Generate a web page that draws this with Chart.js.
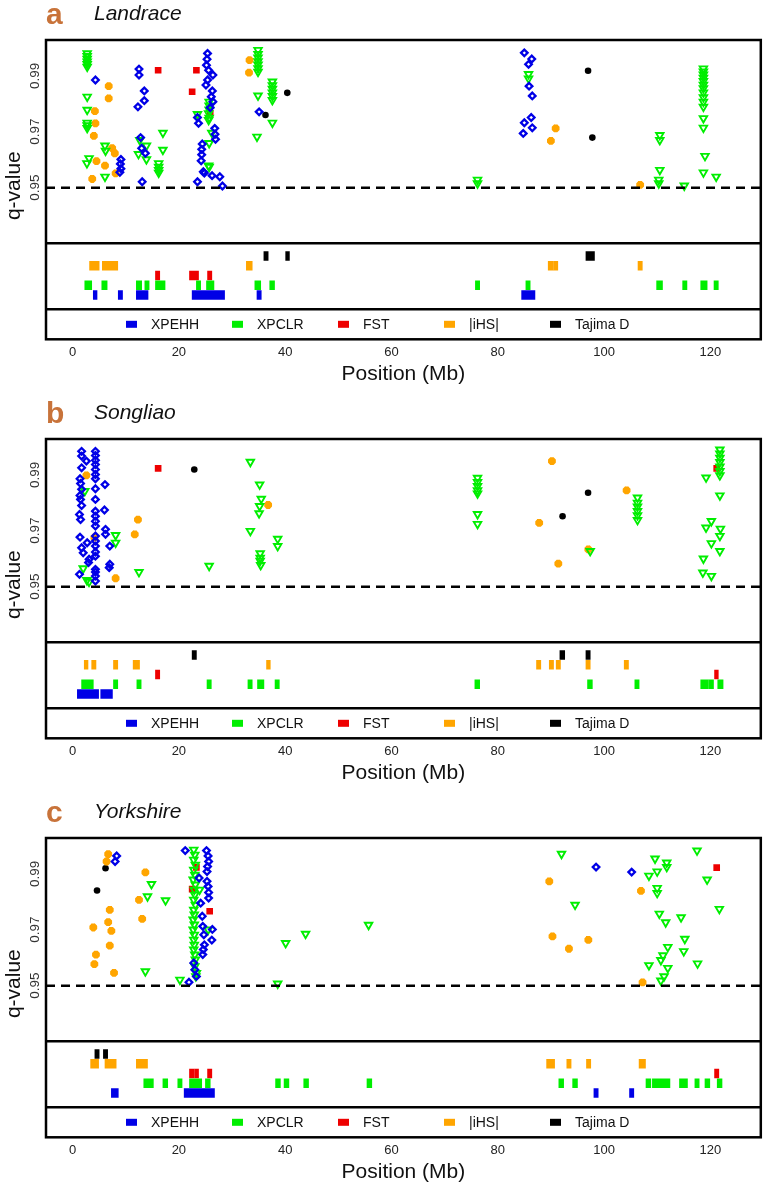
<!DOCTYPE html>
<html><head><meta charset="utf-8">
<script src="https://cdn.jsdelivr.net/npm/chart.js@4.4.1/dist/chart.umd.min.js"></script>
<style>
html,body{margin:0;padding:0;background:#fff;width:768px;height:1189px;overflow:hidden;}
canvas{position:absolute;left:0;}
</style></head><body>
<canvas id="ca" width="768" height="391" style="top:0px"></canvas>
<canvas id="cb" width="768" height="391" style="top:399px"></canvas>
<canvas id="cc" width="768" height="391" style="top:798px"></canvas>
<script>
// ---------- shared labels / ticks ----------
const seriesNames = ['XPEHH', 'XPCLR', 'FST', '|iHS|', 'Tajima D'];
const seriesColors = ['#0000E6', '#00EE00', '#EE0000', '#FFA500', '#000000'];
const trackRows = [1, 2, 3, 4, 5];
const xTicks = [0, 20, 40, 60, 80, 100, 120];
const yTicks = [0.95, 0.97, 0.99];
const threshold = 0.95;
const panelLetters = ['a', 'b', 'c'];
const breedNames = ['Landrace', 'Songliao', 'Yorkshire'];
const xLabel = 'Position (Mb)';
const yLabel = 'q-value';

// ---------- a: Landrace ----------
const aXPEHH = [[4.3,0.9885],[9.1,0.9601],[9.0,0.9585],[9.1,0.9568],[8.9,0.9555],
 [12.5,0.9924],[12.5,0.9903],[13.5,0.9846],[13.5,0.9811],[12.3,0.9789],[12.8,0.9679],[13.0,0.9641],[13.7,0.9623],[13.1,0.9521],
 [25.4,0.9980],[25.3,0.9959],[25.2,0.9938],[25.6,0.9920],[26.4,0.9903],[25.4,0.9885],[25.1,0.9867],[26.3,0.9846],[26.1,0.9825],[26.4,0.9807],[25.9,0.9786],
 [23.5,0.9751],[23.7,0.9730],[26.75,0.9712],[26.8,0.9691],[26.9,0.9673],[24.4,0.9656],[24.3,0.9637],[24.3,0.9618],[24.2,0.9596],[24.6,0.9557],[24.8,0.9552],
 [26.25,0.9543],[27.7,0.9539],[23.5,0.9521],[28.2,0.9506],[35.1,0.9771],
 [85.0,0.9982],[86.4,0.9960],[85.8,0.9941],[85.9,0.9863],[86.5,0.9828],[86.3,0.9751],[85.0,0.9732],[86.5,0.9714],[84.8,0.9694]];
const aXPCLR = [[2.75,0.9980],[2.75,0.9970],[2.75,0.9961],[2.75,0.9951],[2.75,0.9942],[2.75,0.9932],[2.75,0.9825],[2.75,0.9778],[2.75,0.9732],[2.75,0.9723],[2.75,0.9713],[3.1,0.9605],[2.7,0.9587],
 [6.1,0.9650],[6.2,0.9632],[6.1,0.9539],[12.65,0.9670],[13.9,0.9650],[12.4,0.9620],[13.9,0.9601],
 [17.0,0.9696],[17.0,0.9635],[16.2,0.9587],[16.2,0.9574],[16.2,0.9563],[16.2,0.9553],
 [23.5,0.9763],[25.7,0.9807],[25.7,0.9793],[25.7,0.9779],[25.6,0.9766],[25.7,0.9750],[25.6,0.9742],[26.2,0.9696],[25.7,0.9659],[25.6,0.9579],[25.7,0.9574],
 [34.9,0.9992],[34.9,0.9978],[34.9,0.9965],[34.9,0.9952],[34.9,0.9940],[34.9,0.9927],[34.9,0.9914],[34.9,0.9829],[34.7,0.9682],
 [37.6,0.9879],[37.6,0.9866],[37.6,0.9853],[37.6,0.9840],[37.6,0.9827],[37.6,0.9813],[37.6,0.9732],
 [76.2,0.9528],[76.2,0.9515],[85.8,0.9906],[85.8,0.9890],
 [110.5,0.9688],[110.5,0.9670],[110.5,0.9563],[110.3,0.9528],[110.3,0.9515],[115.1,0.9507],
 [118.7,0.9926],[118.7,0.9915],[118.7,0.9904],[118.7,0.9893],[118.7,0.9881],[118.7,0.9868],[118.7,0.9855],[118.7,0.9840],[118.7,0.9823],[118.7,0.9807],[118.7,0.9789],
 [118.7,0.9748],[118.7,0.9714],[119.0,0.9613],[118.7,0.9554],[121.1,0.9539]];
const aFST = [[16.1,0.9920],[23.3,0.9920],[22.5,0.9843],[25.9,0.9766]];
const aIHS = [[6.8,0.9863],[6.8,0.9819],[4.2,0.9774],[4.3,0.9730],[4.0,0.9685],[4.5,0.9595],[6.1,0.9579],[3.7,0.9531],[7.45,0.9641],[7.95,0.9623],[8.1,0.9551],
 [33.3,0.9956],[33.2,0.9911],[90.9,0.9712],[90.0,0.9667],[106.8,0.9510]];
const aTAJ = [[36.3,0.9760],[40.4,0.9839],[97.0,0.9918],[97.8,0.9679]];
const aXPEHHreg = [[3.9,4.6],[8.6,9.4],[12.0,14.2],[22.5,28.6],[34.7,35.5],[84.5,87.0]];
const aXPCLRreg = [[2.3,3.6],[5.5,6.5],[12.0,13.0],[13.6,14.4],[15.6,17.4],[23.3,24.1],[25.2,26.6],[34.3,35.4],[37.1,38.0],[75.8,76.6],[85.3,86.1],[109.9,111.0],[114.8,115.6],[118.2,119.4],[120.7,121.5]];
const aFSTreg = [[15.6,16.4],[22.0,22.8],[22.9,23.7],[25.4,26.2]];
const aIHSreg = [[3.2,5.0],[5.6,8.5],[32.7,33.8],[89.5,90.4],[90.5,91.3],[106.4,107.2]];
const aTAJreg = [[36.0,36.8],[40.1,40.8],[96.6,98.2]];

// ---------- b: Songliao ----------
const bXPEHH = [[1.7,0.9984],[1.7,0.9967],[2.6,0.9949],[1.7,0.9925],[1.4,0.9886],[1.5,0.9869],[1.7,0.9848],[1.4,0.9826],[1.5,0.9812],[1.7,0.9790],[1.3,0.9758],[1.5,0.9740],
 [1.4,0.9677],[2.75,0.9657],[1.7,0.9639],[2.0,0.9621],[3.1,0.9598],[3.0,0.9586],[1.3,0.9544],
 [4.3,0.9984],[4.3,0.9969],[4.3,0.9952],[4.3,0.9937],[4.3,0.9919],[4.3,0.9901],[4.3,0.9886],[4.3,0.9850],[4.3,0.9812],[4.3,0.9770],[4.3,0.9752],[4.3,0.9734],
 [4.3,0.9717],[4.3,0.9681],[4.3,0.9663],[4.3,0.9645],[4.3,0.9624],[4.3,0.9609],[4.3,0.9562],[4.3,0.9552],[4.3,0.9538],[4.3,0.9520],
 [6.1,0.9865],[6.0,0.9774],[6.2,0.9705],[6.2,0.9687],[7.0,0.9645],[7.0,0.9580],[6.9,0.9568]];
const bXPCLR = [[2.3,0.9842],[2.0,0.9565],[2.7,0.9523],[3.1,0.9517],[8.1,0.9684],[8.1,0.9657],[12.5,0.9552],[25.7,0.9574],
 [33.45,0.9946],[35.2,0.9865],[35.5,0.9814],[35.2,0.9788],[35.1,0.9762],[33.45,0.9699],[38.6,0.9671],[38.6,0.9645],[35.3,0.9619],[35.3,0.9603],[35.3,0.9592],[35.4,0.9577],
 [76.2,0.9889],[76.2,0.9874],[76.2,0.9860],[76.2,0.9844],[76.2,0.9833],[76.2,0.9759],[76.2,0.9724],[97.4,0.9627],
 [106.3,0.9818],[106.3,0.9800],[106.3,0.9786],[106.3,0.9770],[106.3,0.9755],[106.3,0.9738],
 [121.8,0.9990],[121.8,0.9976],[121.8,0.9961],[121.8,0.9945],[121.8,0.9929],[121.8,0.9913],[121.8,0.9898],[121.8,0.9826],[119.2,0.9890],[120.2,0.9734],[119.2,0.9711],
 [121.9,0.9707],[121.8,0.9681],[120.2,0.9655],[121.8,0.9627],[118.7,0.9600],[118.6,0.9550],[120.2,0.9538]];
const bFST = [[16.1,0.9923],[121.2,0.9923]];
const bIHS = [[2.6,0.9898],[4.1,0.9675],[8.1,0.9530],[12.3,0.9740],[11.7,0.9687],[36.8,0.9792],[90.2,0.9949],[87.8,0.9728],[91.4,0.9582],[97.05,0.9633],[104.25,0.9844]];
const bTAJ = [[22.9,0.9919],[92.2,0.9752],[97.0,0.9836]];
const bXPEHHreg = [[0.9,4.9],[5.3,7.5]];
const bXPCLRreg = [[1.7,3.9],[7.7,8.5],[12.1,12.9],[25.3,26.1],[33.0,33.8],[34.8,36.0],[38.1,38.9],[75.7,76.6],[96.9,97.8],[105.8,106.6],[118.2,119.6],[119.7,120.6],[121.4,122.4]];
const bFSTreg = [[15.6,16.4],[120.8,121.5]];
const bIHSreg = [[2.2,2.9],[3.6,4.4],[7.7,8.5],[11.4,12.6],[36.5,37.2],[87.3,88.1],[89.7,90.5],[91.0,91.8],[96.6,97.4],[103.8,104.6]];
const bTAJreg = [[22.5,23.3],[91.7,92.6],[96.6,97.4]];

// ---------- c: Yorkshire ----------
const cXPEHH = [[8.3,0.9964],[8.0,0.9944],[21.2,0.9983],[25.2,0.9983],[25.5,0.9964],[25.6,0.9944],[25.4,0.9926],[25.3,0.9908],[23.8,0.9885],[25.3,0.9873],[25.5,0.9855],
 [25.6,0.9833],[25.6,0.9813],[24.1,0.9795],[24.4,0.9748],[24.5,0.9712],[26.3,0.9701],[24.7,0.9682],[26.2,0.9663],[24.8,0.9646],[24.6,0.9629],[24.5,0.9611],
 [22.8,0.9581],[23.0,0.9557],[23.3,0.9533],[21.9,0.9512],[98.5,0.9924],[105.2,0.9906]];
const cXPCLR = [[14.85,0.9863],[14.1,0.9819],[17.5,0.9805],[13.7,0.9551],[20.2,0.9521],
 [22.8,0.9986],[23.0,0.9968],[22.8,0.9950],[23.1,0.9932],[22.8,0.9914],[23.0,0.9896],[22.7,0.9879],[23.1,0.9861],[22.9,0.9843],[23.0,0.9825],[22.8,0.9807],[23.1,0.9789],
 [22.8,0.9771],[22.9,0.9754],[22.7,0.9736],[22.9,0.9718],[22.7,0.9700],[22.9,0.9682],[22.8,0.9664],[22.9,0.9646],[22.8,0.9629],[23.0,0.9611],[23.1,0.9593],[23.0,0.9569],[23.3,0.9545],[23.2,0.9533],
 [23.9,0.9843],[25.5,0.9700],[40.1,0.9652],[43.85,0.9685],[55.7,0.9717],[38.6,0.9507],[92.0,0.9971],[94.55,0.9789],
 [109.6,0.9954],[111.8,0.9940],[111.8,0.9924],[110.0,0.9908],[108.45,0.9893],[110.0,0.9849],[110.0,0.9831],[117.5,0.9983],[119.4,0.9879],[121.7,0.9774],
 [110.4,0.9757],[111.6,0.9726],[114.5,0.9744],[115.2,0.9667],[112.0,0.9638],[115.0,0.9623],[111.1,0.9608],[110.7,0.9591],[108.45,0.9573],[112.0,0.9563],
 [117.6,0.9579],[111.3,0.9533],[110.7,0.9518]];
const cFST = [[23.3,0.9923],[22.5,0.9845],[25.8,0.9766],[121.2,0.9922]];
const cIHS = [[6.7,0.9970],[6.4,0.9944],[13.7,0.9905],[12.5,0.9807],[7.0,0.9771],[13.1,0.9739],[6.7,0.9727],[3.9,0.9708],[7.3,0.9696],[7.0,0.9643],[4.4,0.9611],[4.1,0.9577],[7.8,0.9546],
 [89.7,0.9873],[90.3,0.9676],[93.4,0.9632],[97.05,0.9664],[106.95,0.9839],[107.25,0.9512]];
const cTAJ = [[6.2,0.9920],[4.6,0.9840]];
const cXPEHHreg = [[7.3,8.6],[21.0,26.7],[98.1,98.9],[104.8,105.6]];
const cXPCLRreg = [[13.4,15.2],[17.0,17.9],[19.8,20.6],[22.0,24.3],[25.0,25.9],[38.2,39.1],[39.8,40.7],[43.5,44.4],[55.4,56.3],[91.5,92.4],[94.1,95.0],[107.9,108.8],[109.1,112.4],[114.2,115.7],[117.1,117.9],[119.0,119.9],[121.3,122.2]];
const cFSTreg = [[22.0,22.9],[23.0,23.7],[25.4,26.2],[120.8,121.6]];
const cIHSreg = [[3.4,4.9],[6.1,8.2],[12.0,14.1],[89.2,90.7],[93.0,93.8],[96.7,97.5],[106.6,107.8]];
const cTAJreg = [[4.2,5.0],[5.8,6.6]];

// ---------- axis ranges ----------
const xMin = -5, xMax = 129.5;
const qMin = 0.9301, qMax = 1.0028;
const tMin = -0.47, tMax = 6.30;

const FONT = '"Liberation Sans", Arial, Helvetica, sans-serif';
const letterColor = '#C8733A';

const pointStyles = [
  {pointStyle:'rectRot', pointRadius:3.3, borderWidth:2.3, backgroundColor:'rgba(0,0,0,0)'},
  {pointStyle:'triangle', pointRotation:180, pointRadius:4.3, borderWidth:1.9, backgroundColor:'rgba(0,0,0,0)'},
  {pointStyle:'rect', pointRadius:4.7, borderWidth:0},
  {pointStyle:'star', pointRadius:3.9, borderWidth:3.2},
  {pointStyle:'circle', pointRadius:3.3, borderWidth:0}
];

const decor = {
  id: 'decor',
  afterDraw(chart, args, opts) {
    const {ctx, chartArea: ca, scales} = chart;
    ctx.save();
    // frames
    ctx.strokeStyle = '#000'; ctx.lineWidth = 2.5;
    ctx.strokeRect(ca.left, ca.top, ca.right - ca.left, ca.bottom - ca.top);
    ctx.beginPath();
    ctx.moveTo(ca.left, scales.yq.bottom); ctx.lineTo(ca.right, scales.yq.bottom);
    ctx.moveTo(ca.left, scales.yt.bottom); ctx.lineTo(ca.right, scales.yt.bottom);
    ctx.stroke();
    // rotated y tick labels
    ctx.fillStyle = '#333';
    ctx.font = '13.5px ' + FONT;
    ctx.textAlign = 'center'; ctx.textBaseline = 'middle';
    yTicks.forEach(v => {
      const y = scales.yq.getPixelForValue(v);
      ctx.save(); ctx.translate(35.5, y); ctx.rotate(-Math.PI / 2);
      ctx.fillText(v.toFixed(2), 0, 0); ctx.restore();
    });
    // y title
    ctx.fillStyle = '#111';
    ctx.font = '21px ' + FONT;
    ctx.save(); ctx.translate(14, (ca.top + ca.bottom) / 2 - 4); ctx.rotate(-Math.PI / 2);
    ctx.fillText(yLabel, 0, 0); ctx.restore();
    // legend in bottom box
    const cy = (scales.yl.top + scales.yl.bottom) / 2;
    ctx.font = '14px ' + FONT; ctx.textAlign = 'left';
    seriesNames.forEach((n, i) => {
      const x0 = ca.left + 80 + i * 106;
      ctx.fillStyle = seriesColors[i];
      ctx.fillRect(x0, cy - 3.5, 11, 7);
      ctx.fillStyle = '#111';
      ctx.fillText(n, x0 + 25, cy + 0.5);
    });
    // panel letter and breed
    ctx.textBaseline = 'alphabetic';
    ctx.fillStyle = letterColor;
    ctx.font = 'bold 30px ' + FONT;
    ctx.fillText(opts.letter, 46, 24);
    ctx.fillStyle = '#111';
    ctx.font = 'italic 21px ' + FONT;
    ctx.fillText(opts.breed, 94, 20);
    ctx.restore();
  }
};

function toPts(arr) { return arr.map(([x, y]) => ({x, y})); }

function makePanel(id, idx, pts, regs) {
  const datasets = [];
  datasets.push({
    type: 'scatter', data: [{x: xMin, y: threshold}, {x: xMax, y: threshold}],
    yAxisID: 'yq', xAxisID: 'x', showLine: true, pointRadius: 0,
    borderColor: '#000', borderWidth: 2.5, borderDash: [9, 6], borderCapStyle: 'butt'
  });
  regs.forEach((r, i) => {
    datasets.push({
      type: 'bar', indexAxis: 'y', xAxisID: 'x', yAxisID: 'yt',
      data: r.map(([s, e]) => ({x: [s, e], y: trackRows[i]})),
      backgroundColor: seriesColors[i], borderWidth: 0, borderSkipped: false,
      barThickness: 9, grouped: false
    });
  });
  pts.forEach((p, i) => {
    datasets.push(Object.assign({
      type: 'scatter', data: toPts(p), yAxisID: 'yq', xAxisID: 'x',
      borderColor: seriesColors[i], backgroundColor: seriesColors[i]
    }, pointStyles[i]));
  });
  const hidden = {display: false, drawTicks: false};
  new Chart(document.getElementById(id), {
    type: 'scatter',
    data: {datasets},
    plugins: [decor],
    options: {
      responsive: false, animation: false, events: [],
      layout: {padding: {left: 0, right: 6.3, top: 40, bottom: 0}},
      plugins: {legend: {display: false}, tooltip: {enabled: false},
        decor: {letter: panelLetters[idx], breed: breedNames[idx]}},
      scales: {
        x: {type: 'linear', min: xMin, max: xMax, position: 'bottom', offset: false,
          afterBuildTicks: s => { s.ticks = xTicks.map(v => ({value: v})); },
          afterFit: s => { s.height = 51.7; },
          grid: hidden, border: {display: false},
          ticks: {font: {family: FONT, size: 13}, color: '#222', padding: 5, maxRotation: 0, autoSkip: false},
          title: {display: true, text: xLabel, font: {family: FONT, size: 21}, color: '#111', padding: {top: 0, bottom: 4}}
        },
        yq: {type: 'linear', min: qMin, max: qMax, position: 'left', stack: 'p', stackWeight: 203.3, weight: 3, offset: false,
          afterFit: s => { s.width = 46; }, ticks: {display: false}, grid: hidden, border: {display: false}},
        yt: {type: 'linear', min: tMin, max: tMax, position: 'left', stack: 'p', stackWeight: 66, weight: 2, offset: false,
          afterFit: s => { s.width = 46; }, ticks: {display: false}, grid: hidden, border: {display: false}},
        yl: {type: 'linear', min: 0, max: 1, position: 'left', stack: 'p', stackWeight: 30, weight: 1, offset: false,
          afterFit: s => { s.width = 46; }, ticks: {display: false}, grid: hidden, border: {display: false}}
      }
    }
  });
}

makePanel('ca', 0, [aXPEHH, aXPCLR, aFST, aIHS, aTAJ], [aXPEHHreg, aXPCLRreg, aFSTreg, aIHSreg, aTAJreg]);
makePanel('cb', 1, [bXPEHH, bXPCLR, bFST, bIHS, bTAJ], [bXPEHHreg, bXPCLRreg, bFSTreg, bIHSreg, bTAJreg]);
makePanel('cc', 2, [cXPEHH, cXPCLR, cFST, cIHS, cTAJ], [cXPEHHreg, cXPCLRreg, cFSTreg, cIHSreg, cTAJreg]);
</script>
</body></html>
